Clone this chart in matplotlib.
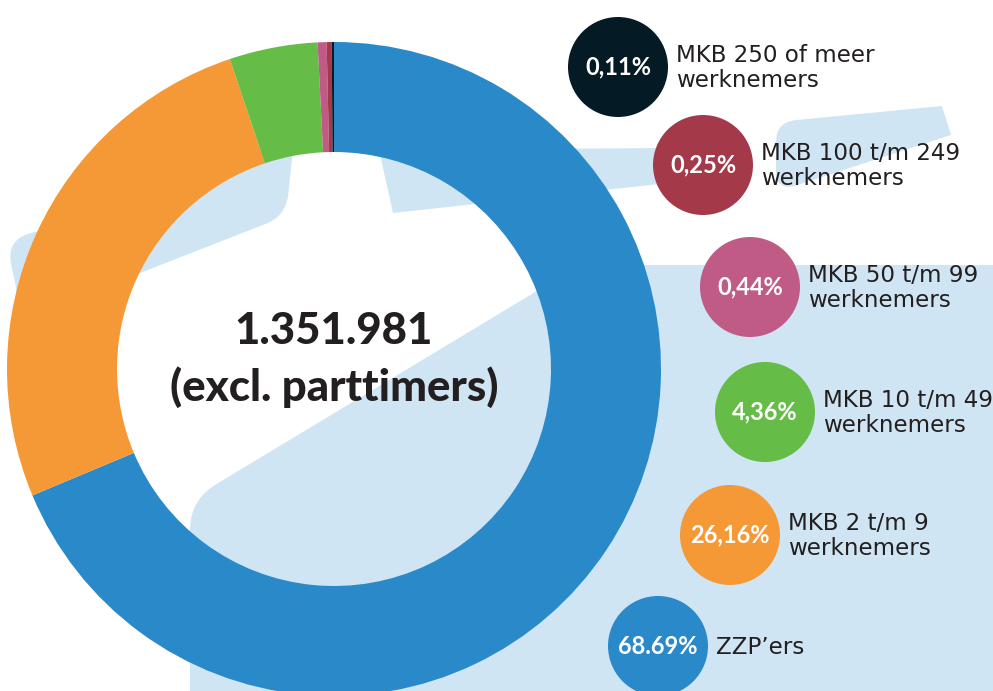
import matplotlib.pyplot as plt
from matplotlib.patches import Circle, PathPatch
from matplotlib.path import Path
import numpy as np

# data, in clockwise order starting from the top of the ring
categories = ["ZZP\u2019ers",
              "MKB 2 t/m 9\nwerknemers",
              "MKB 10 t/m 49\nwerknemers",
              "MKB 50 t/m 99\nwerknemers",
              "MKB 100 t/m 249\nwerknemers",
              "MKB 250 of meer\nwerknemers"]
shares = [68.69, 26.16, 4.36, 0.44, 0.25, 0.11]
share_labels = ["68.69%", "26,16%", "4,36%", "0,44%", "0,25%", "0,11%"]
total_label = "1.351.981"
total_note = "(excl. parttimers)"

colors = ["#2a89c9", "#f49935", "#65bc46", "#c05b86", "#a43a49", "#041a24"]
bg_blue = "#d0e5f3"
text_dark = "#231f20"

# layout in pixels (y grows downward)
W, H = 993, 691
ring_center = (334, 369)
ring_radius = 327
ring_width = 110
bubble_centers = [(658, 646), (730, 535), (765, 412), (750, 287), (703, 165), (618, 67)]
bubble_r = 50


def rounded_shape(pts):
    # pts: list of (x, y, corner radius)
    pts = [(np.array([x, y], float), r) for x, y, r in pts]
    n = len(pts)
    verts, codes = [], []
    for i, (p, r) in enumerate(pts):
        a = pts[i - 1][0]
        b = pts[(i + 1) % n][0]
        if r > 0:
            p1 = p + (a - p) / np.linalg.norm(a - p) * r
            p2 = p + (b - p) / np.linalg.norm(b - p) * r
            verts += [p1, p, p2]
            codes += [Path.LINETO, Path.CURVE3, Path.CURVE3]
        else:
            verts.append(p)
            codes.append(Path.LINETO)
    codes[0] = Path.MOVETO
    verts.append(verts[0])
    codes.append(Path.CLOSEPOLY)
    return Path(verts, codes)


fig = plt.figure(figsize=(W / 100, H / 100), dpi=100)
ax = fig.add_axes([0, 0, 1, 1])

# light blue map shapes behind everything
shapes = [
    [(190, 720, 0), (190, 500, 30), (580, 265, 0), (1010, 265, 0), (1010, 720, 0)],
    [(25, 330, 0), (6, 240, 25), (60, 225, 0), (150, 170, 0), (294, 140, 0),
     (286, 216, 22), (140, 273, 0)],
    [(379, 150, 0), (660, 148, 0), (660, 184, 0), (393, 213, 0)],
    [(776, 122, 20), (942, 106, 0), (951, 135, 0), (776, 192, 22)],
]
for s in shapes:
    ax.add_patch(PathPatch(rounded_shape(s), facecolor=bg_blue, edgecolor="none", zorder=0))

ax.pie(shares, colors=colors, radius=ring_radius, center=ring_center,
       startangle=270, counterclock=True,
       wedgeprops=dict(width=ring_width, linewidth=0))

ax.text(ring_center[0], 331, total_label, ha="center", va="center",
        fontsize=31.5, fontweight="black", family="Lato", color=text_dark)
ax.text(ring_center[0], 387, total_note, ha="center", va="center",
        fontsize=31.5, fontweight="black", family="Lato", color=text_dark)

for (cx, cy), col, pct, name in zip(bubble_centers, colors, share_labels, categories):
    ax.add_patch(Circle((cx, cy), bubble_r, facecolor=col, edgecolor="none", zorder=3))
    ax.text(cx, cy, pct, ha="center", va="center", fontsize=17, fontweight="bold",
            family="Lato", color="white", zorder=4)
    ax.text(cx + bubble_r + 8, cy + 1, name, ha="left", va="center", fontsize=16.6,
            family="DejaVu Sans", color=text_dark, linespacing=1.1, zorder=4)

ax.set_xlim(0, W)
ax.set_ylim(H, 0)
ax.set_aspect("equal")
ax.axis("off")

fig.savefig("out.png", dpi=100)
